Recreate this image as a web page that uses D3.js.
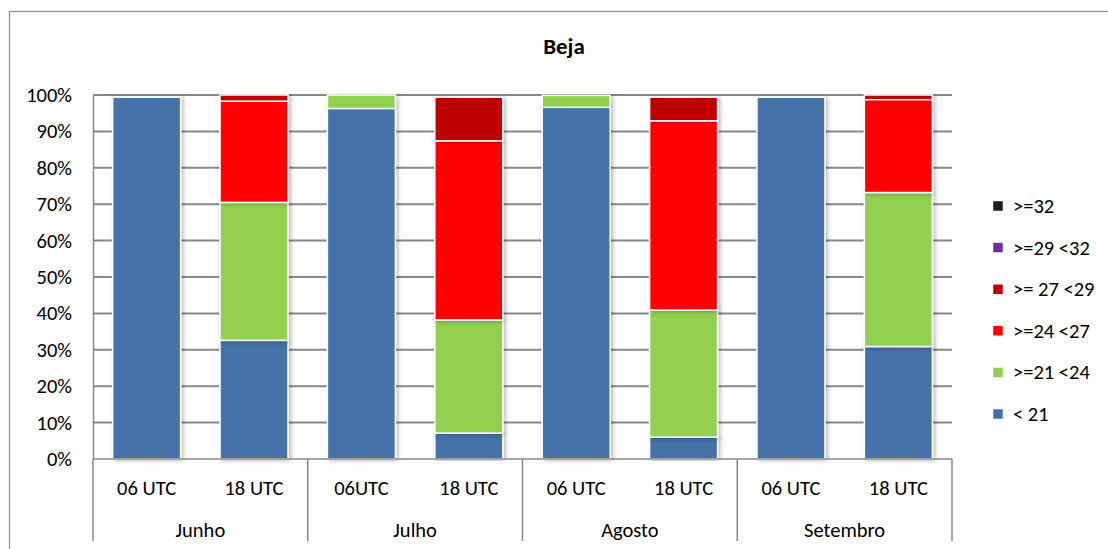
<!DOCTYPE html>
<html>
<head>
<meta charset="utf-8">
<script src="https://cdn.jsdelivr.net/npm/d3@7"></script>
<style>
  html, body { margin: 0; padding: 0; background: #fff; }
  svg { display: block; font-family: Carlito, Calibri, "Liberation Sans", sans-serif; }
</style>
</head>
<body>
<svg id="chart" width="1108" height="549"></svg>
<script>
// Months (outer category level) and observation hours (inner level)
const months = ["Junho", "Julho", "Agosto", "Setembro"];
const hourLabels = [
  ["06 UTC", "18 UTC"],
  ["06UTC", "18 UTC"],
  ["06 UTC", "18 UTC"],
  ["06 UTC", "18 UTC"]
];

// Temperature classes, bottom of the stack first
const classes = ["< 21", ">=21 <24", ">=24 <27", ">= 27 <29", ">=29 <32", ">=32"];
const classColors = ["#4472A8", "#92D050", "#FF0000", "#C00000", "#7030A0", "#1F1F17"];

// Share (%) of each class per bar: Jun 06, Jun 18, Jul 06, Jul 18, Ago 06, Ago 18, Set 06, Set 18
const lt21   = [99.4, 32.6, 96.3,  7.1, 96.6,  6.0, 99.4, 30.9];
const t21_24 = [ 0.0, 37.9,  3.7, 31.1,  3.3, 34.9,  0.0, 42.3];
const t24_27 = [ 0.0, 27.8,  0.0, 49.2,  0.0, 52.0,  0.0, 25.5];
const t27_29 = [ 0.0,  1.7,  0.0, 12.0,  0.0,  6.5,  0.0,  1.3];
const t29_32 = [ 0.0,  0.0,  0.0,  0.0,  0.0,  0.0,  0.0,  0.0];
const ge32   = [ 0.0,  0.0,  0.0,  0.0,  0.0,  0.0,  0.0,  0.0];

const yTicks = [0, 10, 20, 30, 40, 50, 60, 70, 80, 90, 100];

const seriesValues = [lt21, t21_24, t24_27, t27_29, t29_32, ge32];

// Build a table of rows, one per bar
const barKeys = [];
months.forEach((m, i) => hourLabels[i].forEach((h, j) => barKeys.push(m + "|" + j)));
const table = barKeys.map((k, i) => {
  const row = { key: k, month: k.split("|")[0], hour: hourLabels[Math.floor(i / 2)][i % 2] };
  classes.forEach((c, s) => { row[c] = seriesValues[s][i]; });
  return row;
});

const svg = d3.select("#chart");
const plot = { left: 93, right: 952, top: 95, bottom: 459 };
const fontSize = 20.5;

const x = d3.scaleBand().domain(barKeys).range([plot.left, plot.right])
  .paddingInner(0.367).paddingOuter(0.183);
const xGroup = d3.scaleBand().domain(months).range([plot.left, plot.right]);
const y = d3.scaleLinear().domain([0, 100]).range([plot.bottom, plot.top]);

const defs = svg.append("defs");
const shadow = defs.append("filter").attr("id", "barShadow")
  .attr("x", "-20%").attr("y", "-5%").attr("width", "140%").attr("height", "110%");
shadow.append("feDropShadow").attr("dx", 2).attr("dy", 1).attr("stdDeviation", 2)
  .attr("flood-color", "#000").attr("flood-opacity", 0.28);

// Outer chart frame
svg.append("rect").attr("x", 9.5).attr("y", 11.5).attr("width", 1120).attr("height", 560)
  .attr("fill", "#fff").attr("stroke", "#8a8a8a").attr("stroke-width", 1.2);

// Title
svg.append("text").attr("x", 564).attr("y", 54).attr("text-anchor", "middle")
  .attr("font-weight", "bold").attr("font-size", 23).attr("fill", "#000").text("Beja");

// Horizontal gridlines
svg.append("g").selectAll("line").data(yTicks.filter(t => t > 0)).join("line")
  .attr("x1", plot.left).attr("x2", plot.right)
  .attr("y1", d => y(d)).attr("y2", d => y(d))
  .attr("stroke", "#888").attr("stroke-width", 2);

// Y axis labels and axis line
const yAxis = d3.axisLeft(y).tickValues(yTicks).tickFormat(d => d + "%").tickSize(0).tickPadding(21);
const gy = svg.append("g").attr("transform", `translate(${plot.left},0)`).call(yAxis);
gy.select(".domain").attr("stroke", "#888").attr("stroke-width", 1.5);
gy.selectAll("text").attr("font-size", fontSize).attr("fill", "#000")
  .attr("font-family", "Carlito, Calibri, 'Liberation Sans', sans-serif");

// Stacked bars
const stack = d3.stack().keys(classes);
const layers = stack(table);
svg.append("g").selectAll("g").data(layers).join("g")
  .attr("fill", (d, i) => classColors[i])
  .selectAll("rect").data(d => d.filter(p => p[1] - p[0] > 0)).join("rect")
  .attr("x", d => x(d.data.key))
  .attr("width", x.bandwidth())
  .attr("y", d => y(d[1]))
  .attr("height", d => y(d[0]) - y(d[1]))
  .attr("stroke", "#fff").attr("stroke-width", 1.5)
  .attr("filter", "url(#barShadow)");

// Category axis: baseline and group separators
const axisG = svg.append("g");
axisG.append("line").attr("x1", plot.left).attr("x2", plot.right)
  .attr("y1", plot.bottom).attr("y2", plot.bottom)
  .attr("stroke", "#888").attr("stroke-width", 1.5);
const seps = months.map(m => xGroup(m)).concat([plot.right]);
axisG.selectAll("line.sep").data(seps).join("line").attr("class", "sep")
  .attr("x1", d => d).attr("x2", d => d)
  .attr("y1", plot.bottom).attr("y2", 541)
  .attr("stroke", "#888").attr("stroke-width", 1.5);

// Inner labels (hours)
axisG.selectAll("text.hour").data(table).join("text").attr("class", "hour")
  .attr("x", d => x(d.key) + x.bandwidth() / 2).attr("y", 495)
  .attr("text-anchor", "middle").attr("font-size", fontSize).attr("fill", "#000")
  .text(d => d.hour);

// Outer labels (months)
axisG.selectAll("text.month").data(months).join("text").attr("class", "month")
  .attr("x", d => xGroup(d) + xGroup.bandwidth() / 2).attr("y", 537)
  .attr("text-anchor", "middle").attr("font-size", fontSize).attr("fill", "#000")
  .text(d => d);

// Legend, top entry is the highest class
const legendItems = classes.map((c, i) => ({ label: c, color: classColors[i] })).reverse();
const legend = svg.append("g").selectAll("g").data(legendItems).join("g")
  .attr("transform", (d, i) => `translate(993, ${206 + i * 41.6})`);
legend.append("rect").attr("x", 0).attr("y", -5).attr("width", 10).attr("height", 10)
  .attr("fill", d => d.color).attr("stroke", "#fff").attr("stroke-width", 0.5);
legend.append("text").attr("x", 20).attr("y", 7).attr("font-size", fontSize).attr("fill", "#000")
  .text(d => d.label);
</script>
</body>
</html>
